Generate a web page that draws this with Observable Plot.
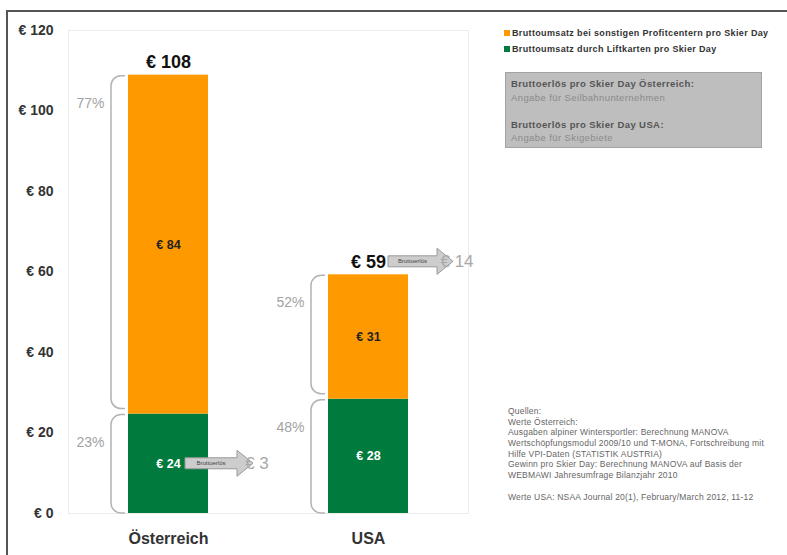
<!DOCTYPE html>
<html><head><meta charset="utf-8">
<script src="https://cdn.jsdelivr.net/npm/d3@7"></script>
<script src="https://cdn.jsdelivr.net/npm/@observablehq/plot@0.6"></script>
<style>
body{margin:0;background:#fff;font-family:"Liberation Sans",Arial,sans-serif}
#wrap{position:relative;width:787px;height:555px;overflow:hidden;background:#fff}
#frame{position:absolute;left:6px;top:10px;right:-5px;bottom:-5px;border-left:2px solid #555;border-top:2px solid #555;pointer-events:none}
#legend{position:absolute;left:504px;top:27px;font-size:9px;letter-spacing:0.35px;font-weight:bold;color:#333}
#legend div{height:16px;line-height:12px;white-space:nowrap}
#legend span.sw{display:inline-block;width:6px;height:6px;margin-right:2px;vertical-align:0px}
#info{position:absolute;left:505px;top:72px;width:257px;height:76px;background:#bebebe;border:1px solid #a3a3a3;box-sizing:border-box;font-size:9.5px;letter-spacing:0.4px;padding:4px 5px}
#info div{height:13.5px;line-height:13px;white-space:nowrap}
#info .b{font-weight:bold;color:#555}
#info .l{color:#8a8a8a}
#sources{position:absolute;left:508px;top:406px;font-size:8.5px;letter-spacing:0.2px;color:#666}
#sources div{height:10.7px;line-height:10.7px;white-space:nowrap}
</style></head><body><div id="wrap"></div>
<script>
// ---- data ----
const countries = ["Österreich", "USA"];
const seriesNames = [
  "Bruttoumsatz durch Liftkarten pro Skier Day",
  "Bruttoumsatz bei sonstigen Profitcentern pro Skier Day"
];
const seriesColors = ["#007a3d", "#ff9900"];
// bar heights
const liftValues = [24.7, 28.4];
const otherValues = [84.2, 30.9];
// printed labels
const liftLabels = [24, 28];
const otherLabels = [84, 31];
const totalLabels = [108, 59];
const liftPct = ["23%", "48%"];
const otherPct = ["77%", "52%"];
const erloesValues = [3, 14];
const erloesLabel = "Bruttoerlös";
const yTicks = [0, 20, 40, 60, 80, 100, 120];
const legendOrder = [1, 0];
const infoLines = [
  ["b", "Bruttoerlös pro Skier Day Österreich:"],
  ["l", "Angabe für Seilbahnunternehmen"],
  ["l", ""],
  ["b", "Bruttoerlös pro Skier Day USA:"],
  ["l", "Angabe für Skigebiete"]
];
const sourceLines = [
  "Quellen:",
  "Werte Österreich:",
  "Ausgaben alpiner Wintersportler: Berechnung MANOVA",
  "Wertschöpfungsmodul 2009/10 und T-MONA, Fortschreibung mit",
  "Hilfe VPI-Daten (STATISTIK AUSTRIA)",
  "Gewinn pro Skier Day: Berechnung MANOVA auf Basis der",
  "WEBMAWI Jahresumfrage Bilanzjahr 2010",
  "",
  "Werte USA: NSAA Journal 20(1), February/March 2012, 11-12"
];

// ---- derived tables ----
const segments = countries.flatMap((c, i) => [
  {country: c, series: seriesNames[0], value: liftValues[i], label: liftLabels[i], pct: liftPct[i], lo: 0, hi: liftValues[i]},
  {country: c, series: seriesNames[1], value: otherValues[i], label: otherLabels[i], pct: otherPct[i], lo: liftValues[i], hi: liftValues[i] + otherValues[i]}
]);
const totalRows = countries.map((c, i) => ({country: c, total: liftValues[i] + otherValues[i], label: totalLabels[i]}));
const arrowRows = [
  {country: countries[0], y: liftValues[0] / 2, start: 17, dy: 0, value: erloesValues[0]},
  {country: countries[1], y: liftValues[1] + otherValues[1], start: 20, dy: -13, value: erloesValues[1]}
];
const eur = d => "€ " + d;

function annotations(index, scales) {
  const x = scales.x, y = scales.y;
  const bw = typeof x.bandwidth === "function" ? x.bandwidth() : 80;
  const g = d3.create("svg:g");
  // braces
  for (const s of segments) {
    const x0 = x(s.country);
    const xv = x0 - 17, r = 10;
    const t = y(s.hi) + 1;
    const b = y(s.lo) - (s.lo > 0 ? 5 : 0);
    g.append("path")
      .attr("d", `M${x0 - 3},${t} L${xv + r},${t} A${r},${r} 0 0 0 ${xv},${t + r} L${xv},${b - r} A${r},${r} 0 0 0 ${xv + r},${b} L${x0 - 3},${b}`)
      .attr("fill", "none").attr("stroke", "#b3b3b3").attr("stroke-width", 1.5);
  }
  // arrows
  for (const a of arrowRows) {
    const cx = x(a.country) + bw / 2;
    const cy = y(a.y) + a.dy;
    const xs = cx + a.start, tip = cx + 85, hb = tip - 16;
    g.append("path")
      .attr("d", `M${xs},${cy - 5.5} L${hb},${cy - 5.5} L${hb},${cy - 13} L${tip},${cy} L${hb},${cy + 13} L${hb},${cy + 5.5} L${xs},${cy + 5.5} Z`)
      .attr("fill", "#cdcdcd").attr("stroke", "#999").attr("stroke-width", 1);
    g.append("text").attr("x", (xs + hb) / 2).attr("y", cy).attr("dy", "0.35em")
      .attr("text-anchor", "middle").attr("font-size", 6).attr("fill", "#444").text(erloesLabel);
    g.append("text").attr("x", tip + 4).attr("y", cy).attr("dy", "0.35em")
      .attr("font-size", 17).attr("fill", "#a8a8a8").text(eur(a.value));
  }
  return g.node();
}

const chart = Plot.plot({
  width: 787,
  height: 555,
  marginLeft: 68,
  marginRight: 319,
  marginTop: 30,
  marginBottom: 42,
  style: {fontFamily: "'Liberation Sans', Arial, sans-serif", background: "transparent"},
  x: {domain: countries, paddingInner: 0.6, paddingOuter: 0.3},
  y: {domain: [0, 120]},
  color: {domain: seriesNames, range: seriesColors},
  marks: [
    Plot.frame({stroke: "#ececec"}),
    Plot.axisY(yTicks, {tickSize: 0, tickPadding: 15, tickFormat: eur, fontSize: 14, fontWeight: "bold", fill: "#333", label: null}),
    Plot.axisX({tickSize: 0, tickPadding: 19, fontSize: 16, fontWeight: "bold", fill: "#333", label: null}),
    Plot.barY(segments, {x: "country", y1: "lo", y2: "hi", fill: "series"}),
    Plot.text(segments.filter(d => d.series === seriesNames[0]), {x: "country", y: d => (d.lo + d.hi) / 2, text: d => eur(d.label), fill: "white", fontWeight: "bold", fontSize: 12.5}),
    Plot.text(segments.filter(d => d.series === seriesNames[1]), {x: "country", y: d => (d.lo + d.hi) / 2, text: d => eur(d.label), fill: "#222", fontWeight: "bold", fontSize: 12.5}),
    Plot.text(segments, {x: "country", y: "hi", text: "pct", dx: -64, dy: 28, textAnchor: "end", fill: "#a3a3a3", fontSize: 14}),
    Plot.text(totalRows, {x: "country", y: "total", text: d => eur(d.label), dy: -7, lineAnchor: "bottom", fontWeight: "bold", fontSize: 18, fill: "#111"}),
    annotations
  ]
});
document.getElementById("wrap").appendChild(chart);

// overlays: frame, legend, info box, sources
const wrap = d3.select("#wrap");
wrap.append("div").attr("id", "frame");
const lg = wrap.append("div").attr("id", "legend");
for (const i of legendOrder) {
  const row = lg.append("div");
  row.append("span").attr("class", "sw").style("background", seriesColors[i]);
  row.append("span").text(seriesNames[i]);
}
const info = wrap.append("div").attr("id", "info");
for (const [cls, txt] of infoLines) info.append("div").attr("class", cls).text(txt);
const src = wrap.append("div").attr("id", "sources");
for (const line of sourceLines) src.append("div").text(line);
</script></body></html>
